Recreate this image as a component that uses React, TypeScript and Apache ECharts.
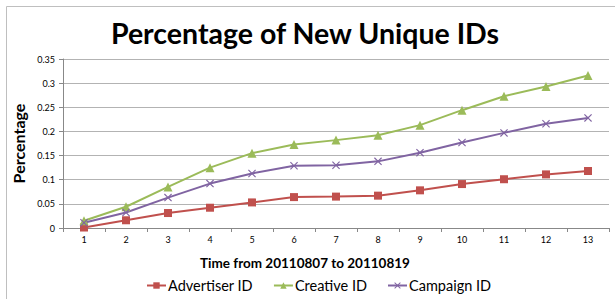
import React, { useEffect, useRef } from "react";
import * as echarts from "echarts";

const categories = ["1", "2", "3", "4", "5", "6", "7", "8", "9", "10", "11", "12", "13"];
const advertiserID = [0.001, 0.016, 0.031, 0.042, 0.053, 0.064, 0.065, 0.067, 0.078, 0.091, 0.101, 0.111, 0.118];
const creativeID = [0.015, 0.044, 0.085, 0.125, 0.155, 0.173, 0.182, 0.192, 0.213, 0.244, 0.273, 0.293, 0.316];
const campaignID = [0.011, 0.032, 0.063, 0.092, 0.113, 0.129, 0.130, 0.138, 0.156, 0.177, 0.197, 0.216, 0.228];

const FONT = "Lato, 'Open Sans', sans-serif";
const xSymbol = "path://M0,1L1,0L5,4L9,0L10,1L6,5L10,9L9,10L5,6L1,10L0,9L4,5Z";

export default function App() {
  const ref = useRef<HTMLDivElement>(null);
  useEffect(() => {
    const chart = echarts.init(ref.current!, null, { renderer: "svg" });
    chart.setOption({
      animation: false,
      backgroundColor: "#ffffff",
      title: {
        text: "Percentage of New Unique IDs",
        left: 300,
        textAlign: "center",
        top: 13,
        textStyle: { fontFamily: FONT, fontWeight: "bold", fontSize: 28.5, color: "#000" },
      },
      graphic: [
        {
          type: "polyline",
          shape: { points: [[6.5, 299], [6.5, 6.5], [615, 6.5]] },
          style: { stroke: "#bfbfbf", lineWidth: 1, fill: "none" },
        },
        {
          type: "text",
          x: 305,
          y: 263,
          style: {
            text: "Time from 20110807 to 20110819",
            align: "center",
            verticalAlign: "middle",
            fontFamily: FONT,
            fontWeight: "bold",
            fontSize: 13.5,
            fill: "#000",
          },
        },
      ],
      legend: {
        bottom: 1,
        left: 141,
        itemGap: 20,
        itemWidth: 19,
        itemHeight: 8,
        textStyle: { fontFamily: FONT, fontSize: 14.5, color: "#000", padding: [0, 0, 0, -3] },
        data: ["Advertiser ID", "Creative ID", "Campaign ID"],
      },
      grid: { left: 63, right: 6, top: 59, bottom: 71, containLabel: false },
      xAxis: {
        type: "category",
        data: categories,
        axisLine: { lineStyle: { color: "#888" } },
        axisTick: { show: true, alignWithLabel: false, length: 4, lineStyle: { color: "#888" } },
        axisLabel: { fontFamily: FONT, fontSize: 9, color: "#000", margin: 7 },
      },
      yAxis: {
        type: "value",
        min: 0,
        max: 0.35,
        interval: 0.05,
        name: "Percentage",
        nameLocation: "middle",
        nameGap: 33,
        nameTextStyle: { fontFamily: FONT, fontWeight: "bold", fontSize: 16, color: "#000" },
        axisLine: { show: true, lineStyle: { color: "#888" } },
        axisTick: { show: true, length: 4, lineStyle: { color: "#888" } },
        axisLabel: { fontFamily: FONT, fontSize: 9, color: "#000", margin: 8 },
        splitLine: { lineStyle: { color: "#b3b3b3" } },
      },
      series: [
        {
          name: "Advertiser ID",
          type: "line",
          data: advertiserID,
          symbol: "rect",
          symbolSize: 8,
          lineStyle: { color: "#c0504d", width: 2 },
          itemStyle: { color: "#c0504d" },
        },
        {
          name: "Creative ID",
          type: "line",
          data: creativeID,
          symbol: "triangle",
          symbolSize: 9,
          lineStyle: { color: "#9bbb59", width: 2 },
          itemStyle: { color: "#9bbb59" },
        },
        {
          name: "Campaign ID",
          type: "line",
          data: campaignID,
          symbol: xSymbol,
          symbolSize: 8,
          lineStyle: { color: "#8064a2", width: 2 },
          itemStyle: { color: "#8064a2" },
        },
      ],
    });
    return () => chart.dispose();
  }, []);
  return <div ref={ref} style={{ position: "fixed", left: 0, top: 0, width: 615, height: 299 }} />;
}
